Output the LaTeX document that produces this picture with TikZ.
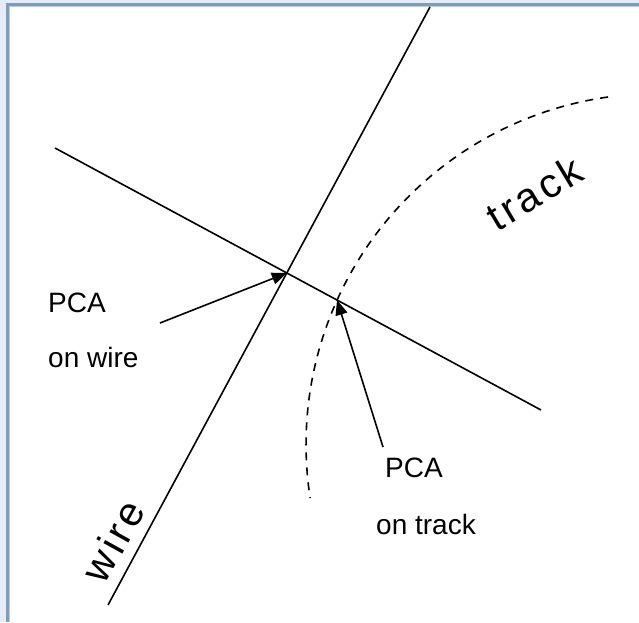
\documentclass[tikz,border=0pt]{standalone}
\usepackage{fontspec}
\setmainfont{Liberation Sans}
\usetikzlibrary{arrows.meta}
\definecolor{frameouter}{HTML}{E4EDF6}
\definecolor{framedark}{HTML}{7F9DB9}
\definecolor{framelight}{HTML}{B9CDE0}
\tikzset{
  line/.style={line width=1.6pt, black},
  dashedarc/.style={line width=1.6pt, black, dash pattern=on 8pt off 7pt},
  pointer/.style={line width=1.6pt, black, -{Triangle[length=15pt,width=12pt]}},
  lbl/.style={font=\fontsize{28}{28}\selectfont, inner sep=0pt, anchor=west},
  rlbl/.style={font=\fontsize{28}{28}\selectfont, inner sep=0pt},
  biglbl/.style={font=\fontsize{41}{41}\selectfont\addfontfeatures{LetterSpace=9}, inner sep=0pt},
}
\begin{document}
\begin{tikzpicture}[x=1pt,y=-1pt]
\useasboundingbox (0,0) rectangle (639,622);
\fill[white] (0,0) rectangle (639,622);
\fill[frameouter] (0,0) rectangle (6,622);
\fill[frameouter] (0,0) rectangle (639,3);
\fill[framedark] (6,3) rectangle (8.5,622);
\fill[framedark] (6,3) rectangle (639,6);
\fill[framelight] (8.5,6) rectangle (9.5,622);
\fill[framelight] (8.5,6) rectangle (639,7);
% main lines
\coordinate (w1) at (430,7);
\coordinate (w2) at (108,605);
\coordinate (c1) at (55,148);
\coordinate (c2) at (541,410);
\draw[line] (w1) -- (w2);
\draw[line] (c1) -- (c2);
\coordinate (pw) at (intersection of w1--w2 and c1--c2);
% track arc
\coordinate (t1) at (608,97);
\draw[dashedarc] (t1) arc[start angle=262, end angle=171.2, radius=350.8];
\coordinate (pt) at (337,300);
% labels
\node[lbl] (pca1) at (48,303) {PCA};
\node[lbl] (onw) at (48,357) {on wire};
\node[rlbl] (pca2) at (414,468) {PCA};
\node[rlbl] (ont) at (426,524) {on track};
\node[biglbl, rotate=61] (wire) at (113,541) {wire};
\node[biglbl, rotate=31] (track) at (534,193) {track};
% arrows
\coordinate (a1) at (160,323);
\coordinate (a2) at (383,447);
\draw[pointer] (a1) -- (pw);
\draw[pointer] (a2) -- (pt);
\end{tikzpicture}
\end{document}
